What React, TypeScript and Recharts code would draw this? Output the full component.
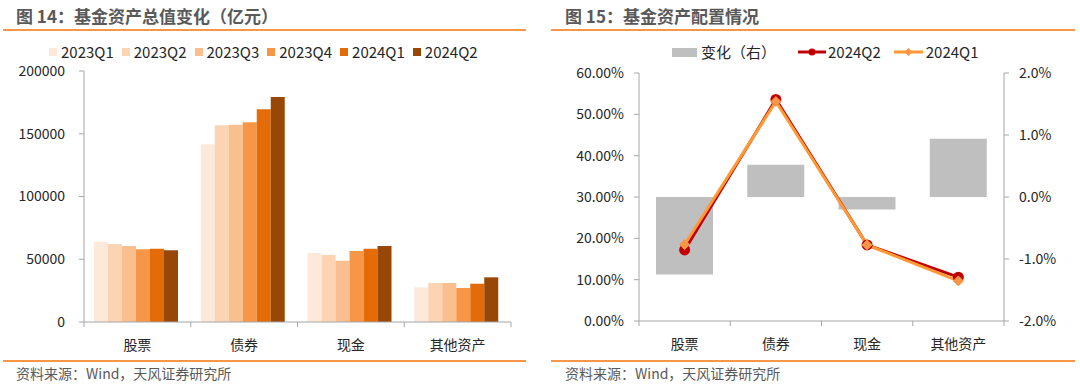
import { BarChart, Bar, ComposedChart, Line, XAxis, YAxis } from 'recharts';

const FONT = '"Noto Sans CJK SC", "Microsoft YaHei", sans-serif';

const categories = ['股票', '债券', '现金', '其他资产'];

const quarters = ['2023Q1', '2023Q2', '2023Q3', '2023Q4', '2024Q1', '2024Q2'];
const quarterColors = ['#FDE9D9', '#FBD4B4', '#FABF8F', '#F79646', '#E36C09', '#974806'];

const stockValues = [64000, 62100, 60500, 57900, 58400, 57100];
const bondValues = [141600, 156700, 157200, 159100, 169500, 179300];
const cashValues = [55000, 53400, 48800, 56600, 58400, 60600];
const otherValues = [27600, 31100, 31100, 27100, 30500, 35600];

const leftTicks = [0, 50000, 100000, 150000, 200000];

const share2024Q2 = [0.172, 0.536, 0.184, 0.106];
const share2024Q1 = [0.185, 0.531, 0.184, 0.097];
const shareChange = [-0.0125, 0.0052, -0.002, 0.0094];

const pctTicks = [0, 0.1, 0.2, 0.3, 0.4, 0.5, 0.6];
const changeTicks = [-0.02, -0.01, 0, 0.01, 0.02];

const valueRows = [stockValues, bondValues, cashValues, otherValues];
const totalData = categories.map((name, i) => {
  const row: Record<string, string | number> = { name };
  quarters.forEach((q, j) => {
    row[q] = valueRows[i][j];
  });
  return row;
});

const shareData = categories.map((name, i) => ({
  name,
  q2: share2024Q2[i],
  q1: share2024Q1[i],
  change: shareChange[i],
}));

const AXIS = '#A6A6A6';
const TICK_TEXT = '#262626';

// category label plus tick marks on the band edges
function BandTick(props: any) {
  const { x, y, payload, width, visibleTicksCount, index } = props;
  const bw = width / visibleTicksCount;
  return (
    <g>
      <line x1={x - bw / 2} x2={x - bw / 2} y1={y} y2={y + 5} stroke={AXIS} />
      {index === visibleTicksCount - 1 && (
        <line x1={x + bw / 2} x2={x + bw / 2} y1={y} y2={y + 5} stroke={AXIS} />
      )}
      <text x={x} y={y + 28} textAnchor="middle" fontSize={14} fill={TICK_TEXT} fontFamily={FONT}>
        {payload.value}
      </text>
    </g>
  );
}

function DiamondDot(props: any) {
  const { cx, cy } = props;
  if (cx == null || cy == null) return null;
  const r = 5;
  return (
    <polygon
      points={`${cx},${cy - r} ${cx + r},${cy} ${cx},${cy + r} ${cx - r},${cy}`}
      fill="#F79646"
      stroke="#F79646"
    />
  );
}

const titleStyle = {
  position: 'absolute' as const,
  top: 5,
  fontSize: 17,
  fontWeight: 700,
  color: '#595959',
  fontFamily: FONT,
  whiteSpace: 'nowrap' as const,
  lineHeight: '22px',
};

const sourceStyle = {
  position: 'absolute' as const,
  top: 363,
  fontSize: 14,
  color: '#595959',
  fontFamily: FONT,
  whiteSpace: 'nowrap' as const,
  lineHeight: '20px',
};

const rule = (left: number, top: number, width: number) => (
  <div style={{ position: 'absolute', left, top, width, height: 2, background: '#F79646' }} />
);

export default function App() {
  return (
    <div
      style={{
        position: 'absolute',
        left: 0,
        top: 0,
        width: 1080,
        height: 385,
        background: '#fff',
        overflow: 'hidden',
        fontFamily: FONT,
      }}
    >
      {/* left panel */}
      <div style={{ ...titleStyle, left: 16 }}>图 14：基金资产总值变化（亿元）</div>
      {rule(3, 29, 523)}
      <div
        style={{
          position: 'absolute',
          left: 49,
          top: 42,
          display: 'flex',
          alignItems: 'center',
          gap: 8,
          fontSize: 15,
          color: TICK_TEXT,
          lineHeight: '20px',
        }}
      >
        {quarters.map((q, i) => (
          <div key={q} style={{ display: 'flex', alignItems: 'center', gap: 4 }}>
            <span style={{ width: 8, height: 8, background: quarterColors[i], display: 'inline-block' }} />
            <span>{q}</span>
          </div>
        ))}
      </div>
      <div style={{ position: 'absolute', left: 0, top: 0 }}>
        <BarChart
          width={540}
          height={360}
          data={totalData}
          margin={{ top: 71, right: 29, left: 0, bottom: 8 }}
          barCategoryGap={10}
          barGap={0}
        >
          <XAxis
            dataKey="name"
            height={30}
            stroke={AXIS}
            tickLine={false}
            tickSize={0}
            tickMargin={0}
            tick={<BandTick />}
            interval={0}
          />
          <YAxis
            width={84}
            domain={[0, 200000]}
            ticks={leftTicks}
            stroke={AXIS}
            tickSize={5}
            tickMargin={14}
            tick={{ fontSize: 14, fill: TICK_TEXT, fontFamily: FONT }}
          />
          {quarters.map((q, i) => (
            <Bar key={q} dataKey={q} fill={quarterColors[i]} isAnimationActive={false} />
          ))}
        </BarChart>
      </div>
      {rule(3, 360, 523)}
      <div style={{ ...sourceStyle, left: 16 }}>资料来源：Wind，天风证券研究所</div>

      {/* right panel */}
      <div style={{ ...titleStyle, left: 565 }}>图 15：基金资产配置情况</div>
      {rule(551, 29, 524)}
      <div
        style={{
          position: 'absolute',
          left: 672,
          top: 42,
          display: 'flex',
          alignItems: 'center',
          fontSize: 15,
          color: TICK_TEXT,
          lineHeight: '20px',
        }}
      >
        <span style={{ width: 25, height: 9, background: '#BFBFBF', display: 'inline-block', marginRight: 4 }} />
        <span style={{ marginRight: 22 }}>变化（右）</span>
        <svg width={28} height={10} style={{ marginRight: 2 }}>
          <line x1={0} x2={28} y1={5} y2={5} stroke="#C00000" strokeWidth={3} />
          <circle cx={14} cy={5} r={3.5} fill="#C00000" />
        </svg>
        <span style={{ marginRight: 13 }}>2024Q2</span>
        <svg width={29} height={10} style={{ marginRight: 3 }}>
          <line x1={0} x2={29} y1={5} y2={5} stroke="#FF9933" strokeWidth={3} />
          <polygon points="14.5,1 18.5,5 14.5,9 10.5,5" fill="#F79646" />
        </svg>
        <span>2024Q1</span>
      </div>
      <div style={{ position: 'absolute', left: 540, top: 0 }}>
        <ComposedChart
          width={540}
          height={360}
          data={shareData}
          margin={{ top: 73, right: 16, left: 0, bottom: 9 }}
          barCategoryGap={17}
        >
          <XAxis
            dataKey="name"
            height={30}
            stroke={AXIS}
            tickLine={false}
            tickSize={0}
            tickMargin={0}
            tick={<BandTick />}
            interval={0}
          />
          <YAxis
            yAxisId="left"
            width={99}
            domain={[0, 0.6]}
            ticks={pctTicks}
            stroke={AXIS}
            tickSize={5}
            tickMargin={10}
            tickFormatter={(v: number) => (v * 100).toFixed(2) + '%'}
            tick={{ fontSize: 14, fill: TICK_TEXT, fontFamily: FONT }}
          />
          <YAxis
            yAxisId="right"
            orientation="right"
            width={60}
            domain={[-0.02, 0.02]}
            ticks={changeTicks}
            stroke={AXIS}
            tickSize={5}
            tickMargin={10}
            tickFormatter={(v: number) => (v * 100).toFixed(1) + '%'}
            tick={{ fontSize: 14, fill: TICK_TEXT, fontFamily: FONT }}
          />
          <Bar yAxisId="right" dataKey="change" fill="#BFBFBF" isAnimationActive={false} />
          <Line
            yAxisId="left"
            dataKey="q2"
            stroke="#C00000"
            strokeWidth={3}
            dot={{ r: 4, fill: '#C00000', stroke: '#C00000' }}
            activeDot={false}
            isAnimationActive={false}
          />
          <Line
            yAxisId="left"
            dataKey="q1"
            stroke="#FF9933"
            strokeWidth={3}
            dot={<DiamondDot />}
            activeDot={false}
            isAnimationActive={false}
          />
        </ComposedChart>
      </div>
      {rule(551, 360, 524)}
      <div style={{ ...sourceStyle, left: 565 }}>资料来源：Wind，天风证券研究所</div>
    </div>
  );
}
